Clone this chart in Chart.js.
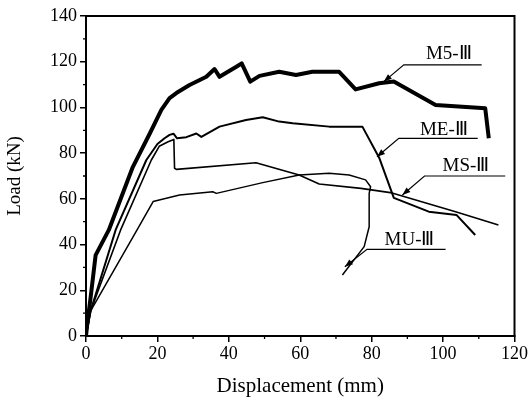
<!DOCTYPE html>
<html>
<head>
<meta charset="utf-8">
<script src="https://cdn.jsdelivr.net/npm/chart.js@4/dist/chart.umd.min.js"></script>
<style>
  html, body { margin: 0; padding: 0; background: #fff; }
  #wrap { width: 529px; height: 403px; }
</style>
</head>
<body>
<div id="wrap"><canvas id="chart" width="529" height="403"></canvas></div>
<script>
// curves (displacement mm / load kN)
const m5X = [0, 0.4, 1.3, 2.7, 6.4, 13.1, 17.9, 21.1, 23.4, 25.3, 29.0, 33.7, 36.0, 37.4, 42.1, 43.6, 46.0, 48.6, 54.1, 58.8, 63.4, 70.9, 75.5, 82.1, 86.2, 97.9, 111.8, 112.8];
const m5Y = [0, 6, 17, 35.4, 46.4, 73.9, 88.7, 98.9, 104.1, 106.3, 109.8, 113.4, 116.8, 113.4, 117.8, 119.3, 111.3, 113.8, 115.6, 114.2, 115.6, 115.6, 107.9, 110.6, 111.3, 101.1, 99.6, 86.5];

const meX = [0, 1.3, 8.3, 16.9, 20, 22, 23.4, 24.5, 25.5, 28.1, 30.9, 32.3, 37.4, 44.8, 49.5, 54.1, 57.9, 68.1, 77.4, 82.1, 86.2, 96, 103.8, 109];
const meY = [0, 11, 46.4, 77, 84, 86.5, 88, 88.5, 86.5, 87, 88.6, 87.1, 91.6, 94.5, 95.7, 93.8, 93.1, 91.6, 91.6, 78, 60.4, 54.4, 52.9, 44.2];

const msX = [0, 1.3, 9.7, 18.3, 20.5, 23, 24.6, 24.8, 25.3, 47.6, 59.7, 65.3, 77, 85.7, 103.5, 115.5];
const msY = [0, 11, 46.4, 77, 83, 85, 86, 73.4, 72.9, 75.8, 70.4, 66.5, 64.6, 62.6, 54.4, 48.6];

const muX = [0, 1.3, 14.3, 18.8, 26.2, 35.5, 36.5, 49.5, 59.7, 68.1, 73.7, 78.3, 79.7, 79.3, 79.3, 77.9, 71.8];
const muY = [0, 11, 46.4, 58.8, 61.7, 63.1, 62.4, 67.1, 70.4, 71.2, 70.4, 68.3, 65.3, 62.4, 47.8, 39.1, 26.7];

const xTicks = [0, 20, 40, 60, 80, 100, 120];
const yTicks = [0, 20, 40, 60, 80, 100, 120, 140];

// curve labels with leader lines (data units)
const labelText = ['M5-Ⅲ', 'ME-Ⅲ', 'MS-Ⅲ', 'MU-Ⅲ'];
const labelX = [101.6, 100.2, 106.4, 90.6];
const labelY = [123.4, 90.3, 74.4, 42.2];
const underlineX1 = [89, 87.6, 94.8, 78.7];
const underlineX2 = [110.8, 109.7, 117.4, 100.7];
const underlineY = [118.6, 86.5, 70, 37.9];
const tipX = [83.4, 81.5, 88.6, 72.5];
const tipY = [111.3, 78.4, 61.7, 30.3];

const serif = '"Liberation Serif", "Times New Roman", serif';

function pts(xs, ys) {
  return xs.map((x, i) => ({ x: x, y: ys[i] }));
}

// frame, minor ticks and labels
const extras = {
  id: 'extras',
  afterDraw(chart) {
    const ctx = chart.ctx;
    const a = chart.chartArea;
    const xs = chart.scales.x, ys = chart.scales.y;
    ctx.save();
    ctx.strokeStyle = '#000';
    ctx.lineWidth = 2;
    ctx.strokeRect(a.left, a.top, a.right - a.left, a.bottom - a.top);

    ctx.lineWidth = 1.3;
    ctx.beginPath();
    for (let v = 10; v < 120; v += 20) {
      const px = xs.getPixelForValue(v);
      ctx.moveTo(px, a.bottom);
      ctx.lineTo(px, a.bottom + 3);
    }
    for (let v = 10; v < 140; v += 20) {
      const py = ys.getPixelForValue(v);
      ctx.moveTo(a.left, py);
      ctx.lineTo(a.left - 3, py);
    }
    ctx.stroke();

    ctx.font = '19px ' + serif;
    ctx.fillStyle = '#000';
    ctx.textAlign = 'center';
    ctx.textBaseline = 'middle';
    ctx.lineWidth = 1.2;
    for (let i = 0; i < labelText.length; i++) {
      ctx.fillText(labelText[i], xs.getPixelForValue(labelX[i]), ys.getPixelForValue(labelY[i]));
      const x1 = xs.getPixelForValue(underlineX1[i]);
      const x2 = xs.getPixelForValue(underlineX2[i]);
      const uy = ys.getPixelForValue(underlineY[i]);
      const tx = xs.getPixelForValue(tipX[i]);
      const ty = ys.getPixelForValue(tipY[i]);
      ctx.beginPath();
      ctx.moveTo(x2, uy);
      ctx.lineTo(x1, uy);
      ctx.lineTo(tx, ty);
      ctx.stroke();
      // arrow head
      const ang = Math.atan2(ty - uy, tx - x1);
      const len = 8, w = 3;
      ctx.beginPath();
      ctx.moveTo(tx, ty);
      ctx.lineTo(tx - len * Math.cos(ang) + w * Math.sin(ang), ty - len * Math.sin(ang) - w * Math.cos(ang));
      ctx.lineTo(tx - len * Math.cos(ang) - w * Math.sin(ang), ty - len * Math.sin(ang) + w * Math.cos(ang));
      ctx.closePath();
      ctx.fill();
    }
    ctx.restore();
  }
};

new Chart(document.getElementById('chart'), {
  type: 'scatter',
  data: {
    datasets: [
      { label: 'M5-Ⅲ', data: pts(m5X, m5Y), borderWidth: 4 },
      { label: 'ME-Ⅲ', data: pts(meX, meY), borderWidth: 2 },
      { label: 'MS-Ⅲ', data: pts(msX, msY), borderWidth: 1.6 },
      { label: 'MU-Ⅲ', data: pts(muX, muY), borderWidth: 1.5 }
    ].map(d => Object.assign(d, {
      showLine: true,
      borderColor: '#000',
      backgroundColor: '#000',
      pointRadius: 0,
      tension: 0,
      borderJoinStyle: 'round'
    }))
  },
  options: {
    responsive: false,
    animation: false,
    layout: { padding: { top: 16, right: 13, bottom: 4, left: 0 } },
    plugins: { legend: { display: false }, tooltip: { enabled: false } },
    scales: {
      x: {
        type: 'linear',
        min: 0,
        max: 120,
        afterBuildTicks: s => { s.ticks = xTicks.map(v => ({ value: v })); },
        afterFit: s => { s.height = 63; },
        ticks: { color: '#000', font: { family: serif, size: 18 }, padding: 1, maxRotation: 0 },
        grid: { drawOnChartArea: false, drawTicks: true, tickLength: 6, color: '#000', lineWidth: 1.5 },
        border: { display: true, color: '#000', width: 2 },
        title: { display: true, text: 'Displacement (mm)', color: '#000', font: { family: serif, size: 21 }, padding: { top: 4, bottom: 0 } }
      },
      y: {
        type: 'linear',
        min: 0,
        max: 140,
        afterBuildTicks: s => { s.ticks = yTicks.map(v => ({ value: v })); },
        afterFit: s => { s.width = 86; },
        ticks: { color: '#000', font: { family: serif, size: 18 }, padding: 3 },
        grid: { drawOnChartArea: false, drawTicks: true, tickLength: 6, color: '#000', lineWidth: 1.5 },
        border: { display: true, color: '#000', width: 2 },
        title: { display: true, text: 'Load (kN)', color: '#000', font: { family: serif, size: 19 }, padding: { top: 4, bottom: 0 } }
      }
    }
  },
  plugins: [extras]
});
</script>
</body>
</html>
